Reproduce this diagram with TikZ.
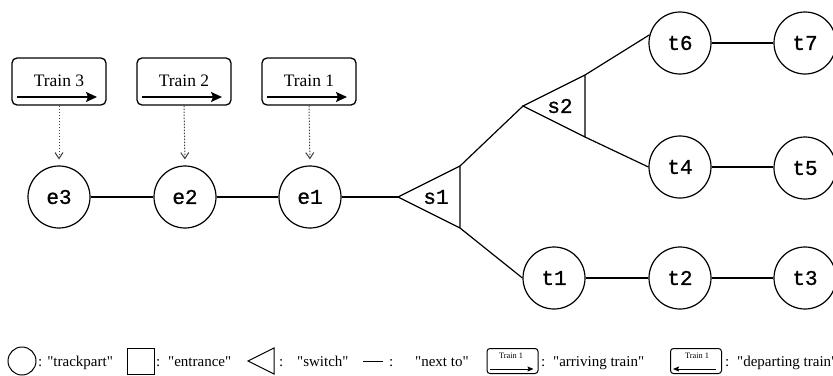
\documentclass[tikz,border=0pt]{standalone}
\usepackage{fontspec}
\setmainfont{Liberation Serif}
\newfontfamily\trackfont[FakeBold=1]{Liberation Mono}
\usetikzlibrary{arrows.meta}
\newcommand{\qq}[1]{\textquotedbl #1\textquotedbl}
\begin{document}
\begin{tikzpicture}[x=1pt,y=-1pt,
  track/.style={circle, draw, line width=1.2pt, minimum size=62pt, inner sep=0pt,
    font=\trackfont\fontsize{21}{21}\selectfont},
  swlabel/.style={inner sep=0pt, font=\trackfont\fontsize{21}{21}\selectfont},
  link/.style={line width=1.2pt},
  trainbox/.style={draw, rounded corners=5pt, line width=1.3pt, minimum width=94pt, minimum height=47pt, inner sep=0pt},
  traintext/.style={font=\fontsize{17.5}{18}\selectfont, anchor=base, inner sep=0pt},
  trainarrow/.style={line width=1.3pt, -{Stealth[length=11pt,width=10pt,inset=2pt]}},
  arrive/.style={line width=1pt, dash pattern=on 1.5pt off 1.5pt, -{Straight Barb[length=6pt,width=8pt]}, shorten >=6pt, black!75},
  legendtext/.style={font=\fontsize{15}{15}\selectfont, anchor=base west, inner sep=0pt},
  smallbox/.style={draw, rounded corners=3pt, line width=1pt, minimum width=51pt, minimum height=25pt, inner sep=0pt},
  smalltext/.style={font=\fontsize{8.3}{9}\selectfont, anchor=base, inner sep=0pt},
  smallarrow/.style={line width=0.9pt, -{Stealth[length=6pt,width=5pt,inset=1pt]}},
]
\useasboundingbox (0,0) rectangle (833,375);

% entrances
\node[track] (e3) at (59,197) {e3};
\node[track] (e2) at (185,197) {e2};
\node[track] (e1) at (310,197) {e1};

% switches
\coordinate (s1tip) at (398,197);
\coordinate (s1top) at (460,166);
\coordinate (s1bot) at (460,228);
\draw[link] (s1tip) -- (s1top) -- (s1bot) -- cycle;
\node[swlabel] (s1) at (436,197) {s1};

\coordinate (s2tip) at (523,106);
\coordinate (s2top) at (585,75);
\coordinate (s2bot) at (585,137);
\draw[link] (s2tip) -- (s2top) -- (s2bot) -- cycle;
\node[swlabel] (s2) at (560,106) {s2};

% track parts
\node[track] (t6) at (680,43) {t6};
\node[track] (t7) at (805,43) {t7};
\node[track] (t4) at (680,167) {t4};
\node[track] (t5) at (805,168) {t5};
\node[track] (t1) at (554,278) {t1};
\node[track] (t2) at (680,278) {t2};
\node[track] (t3) at (805,278) {t3};

% next-to links
\draw[link] (e3) -- (e2);
\draw[link] (e2) -- (e1);
\draw[link] (e1.east) -- (s1tip);
\draw[link] (s1top) -- (s2tip);
\draw[link] (s1bot) -- (t1.west);
\draw[link] (s2top) -- (t6.165);
\draw[link] (s2bot) -- (t4.west);
\draw[link] (t6) -- (t7);
\draw[link] (t4.east) -- (t4.east -| t5.west);
\draw[link] (t1) -- (t2);
\draw[link] (t2) -- (t3);

% trains
\foreach \n/\x/\e in {3/59/e3, 2/184/e2, 1/309/e1}{
  \node[trainbox] (b\n) at (\x,81.5) {};
  \node[traintext] (l\n) at (\x,86) {Train \n};
  \draw[trainarrow] ([xshift=-42pt,yshift=-15.5pt]b\n.center) -- ([xshift=38pt,yshift=-15.5pt]b\n.center);
  \draw[arrive] (b\n.south) -- (\e.north);
}

% legend
\draw[line width=1pt] (22,361) circle (14);
\node[legendtext] (lg1) at (38,366) {: \qq{trackpart}};
\draw[line width=1pt] (127,348) rectangle (154,374);
\node[legendtext] (lg2c) at (156,366) {:};
\node[legendtext] (lg2) at (168,366) {\qq{entrance}};
\draw[line width=1pt] (274,348) -- (248,361) -- (274,374) -- cycle;
\node[legendtext] (lg3c) at (279,366) {:};
\node[legendtext] (lg3) at (297,366) {\qq{switch}};
\coordinate (lnA) at (363,361);
\coordinate (lnB) at (383,361);
\draw[line width=1pt] (lnA) -- (lnB);
\node[legendtext] (lg4c) at (389,366) {:};
\node[legendtext] (lg4) at (415,366) {\qq{next to}};
\node[smallbox] (sb1) at (512.5,361) {};
\node[smalltext] (st1) at (511,358) {Train 1};
\draw[smallarrow] ([xshift=-23pt,yshift=-8pt]sb1.center) -- ([xshift=21pt,yshift=-8pt]sb1.center);
\node[legendtext] (lg5c) at (541,366) {:};
\node[legendtext] (lg5) at (553,366) {\qq{arriving train}};
\node[smallbox] (sb2) at (696,361) {};
\node[smalltext] (st2) at (697,358) {Train 1};
\draw[smallarrow] ([xshift=20pt,yshift=-8pt]sb2.center) -- ([xshift=-23pt,yshift=-8pt]sb2.center);
\node[legendtext] (lg6c) at (725,366) {:};
\node[legendtext] (lg6) at (737,366) {\qq{departing train}};
\end{tikzpicture}
\end{document}
